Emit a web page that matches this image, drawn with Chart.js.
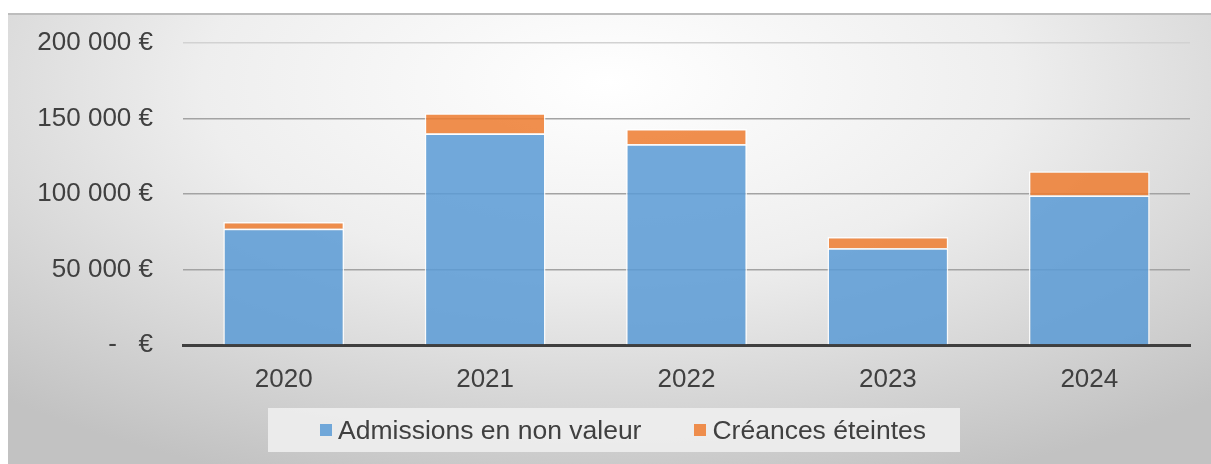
<!DOCTYPE html>
<html lang="fr">
<head>
    <meta charset="UTF-8">
    <title>Admissions en non valeur / Créances éteintes</title>
    <style>
        body {
            margin: 0;
            background: #ffffff;
            font-family: 'Liberation Sans', Arial, sans-serif;
        }
        .chart-box {
            position: absolute;
            left: 8px;
            top: 13px;
            width: 1203px;
            height: 451px;
            border-top: 2px solid #bdbdbd;
            box-sizing: border-box;
            background: radial-gradient(ellipse 75% 95% at 50% 15%, #ffffff 0%, #eeeeee 45%, #d6d6d6 75%, #c2c2c2 100%);
        }
        #chart {
            position: absolute;
            left: 0;
            top: -2px;
        }
        .legend-box {
            position: absolute;
            left: 260px;
            top: 393px;
            width: 692px;
            height: 44px;
            box-sizing: border-box;
            padding-left: 52px;
            background: rgba(238, 238, 238, 0.9);
            display: flex;
            justify-content: flex-start;
            align-items: center;
            gap: 53px;
            font-size: 26.5px;
            color: #404040;
        }
        .legend-item {
            display: flex;
            align-items: center;
        }
        .legend-item span.swatch {
            display: inline-block;
            width: 12px;
            height: 12px;
            margin-right: 6px;
        }
    </style>
</head>
<body>
    <div class="chart-box">
        <canvas id="chart" width="1203" height="451"></canvas>
        <div class="legend-box" id="legend"></div>
    </div>

    <script src="https://cdn.jsdelivr.net/npm/chart.js"></script>
    <script>
        // data (euros)
        var years = ['2020', '2021', '2022', '2023', '2024'];
        var admissions = [77000, 140000, 133000, 64000, 99000];
        var creances = [4500, 13500, 10000, 7500, 16000];
        var yTickValues = [0, 50000, 100000, 150000, 200000];
        var yTickLabels = ['-   €', '50 000 €', '100 000 €', '150 000 €', '200 000 €'];

        var seriesNames = ['Admissions en non valeur', 'Créances éteintes'];
        var seriesColors = ['rgba(91, 155, 213, 0.86)', 'rgba(237, 125, 49, 0.86)'];

        var fontFamily = "'Liberation Sans', Arial, sans-serif";
        var textColor = '#404040';

        var ctx = document.getElementById('chart').getContext('2d');
        var chart = new Chart(ctx, {
            type: 'bar',
            data: {
                labels: years,
                datasets: [
                    {
                        label: seriesNames[0],
                        data: admissions,
                        backgroundColor: seriesColors[0],
                        borderColor: 'rgba(255, 255, 255, 0.85)',
                        borderWidth: 1.5
                    },
                    {
                        label: seriesNames[1],
                        data: creances,
                        backgroundColor: seriesColors[1],
                        borderColor: 'rgba(255, 255, 255, 0.85)',
                        borderWidth: 1.5
                    }
                ]
            },
            options: {
                responsive: false,
                animation: false,
                layout: {
                    padding: { top: 30, right: 21, bottom: 0, left: 0 }
                },
                datasets: {
                    bar: {
                        categoryPercentage: 1,
                        barPercentage: 0.6
                    }
                },
                scales: {
                    x: {
                        stacked: true,
                        grid: { display: false, drawTicks: false },
                        border: { display: true, color: '#3f3f3f', width: 3 },
                        ticks: {
                            color: textColor,
                            font: { family: fontFamily, size: 26 },
                            padding: 19
                        },
                        afterFit: function (axis) { axis.height = 119; }
                    },
                    y: {
                        stacked: true,
                        min: 0,
                        max: 200000,
                        afterBuildTicks: function (axis) {
                            axis.ticks = yTickValues.map(function (v) { return { value: v }; });
                        },
                        grid: {
                            drawTicks: false,
                            lineWidth: 1.5,
                            color: function (c) {
                                if (c.tick && c.tick.value === 200000) return '#d2d2d2';
                                return '#a3a3a3';
                            }
                        },
                        border: { display: false },
                        ticks: {
                            color: textColor,
                            font: { family: fontFamily, size: 26 },
                            padding: 30,
                            callback: function (value) {
                                var i = yTickValues.indexOf(value);
                                return i >= 0 ? yTickLabels[i] : '';
                            }
                        },
                        afterFit: function (axis) {
                            axis.width = 175;
                            // tick padding otherwise pushes the plot area down
                            axis.paddingTop = 0;
                            axis.paddingBottom = 0;
                        }
                    }
                },
                plugins: {
                    legend: { display: false },
                    tooltip: { enabled: false }
                }
            }
        });

        // legend in html, built from the datasets
        var legendBox = document.getElementById('legend');
        chart.data.datasets.forEach(function (ds) {
            var item = document.createElement('div');
            item.className = 'legend-item';
            var sw = document.createElement('span');
            sw.className = 'swatch';
            sw.style.background = ds.backgroundColor;
            var txt = document.createElement('span');
            txt.textContent = ds.label;
            item.appendChild(sw);
            item.appendChild(txt);
            legendBox.appendChild(item);
        });
    </script>
</body>
</html>
